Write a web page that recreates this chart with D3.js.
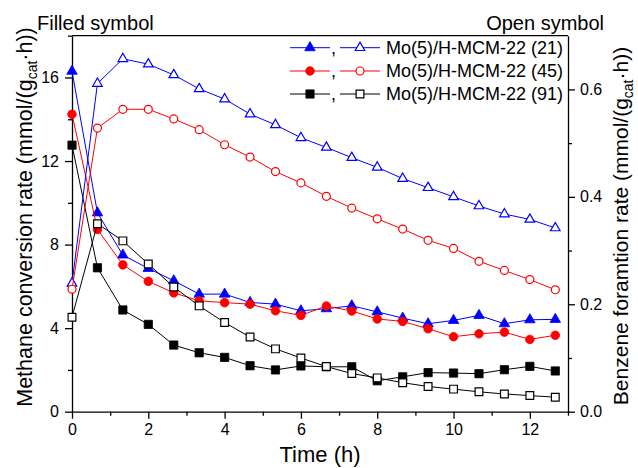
<!DOCTYPE html>
<html><head><meta charset="utf-8">
<script src="https://cdn.jsdelivr.net/npm/d3@7"></script>
<style>body{margin:0;background:#fff}svg{display:block}text{font-family:"Liberation Sans",Arial,sans-serif}</style>
</head><body><div id="c"></div>
<script>
const time = [0,0.667,1.333,2,2.667,3.333,4,4.667,5.333,6,6.667,7.333,8,8.667,9.333,10,10.667,11.333,12,12.667];
// Methane conversion rate (filled symbols, left axis)
const ch4_21 = [16.3,9.52,7.5,6.86,6.27,5.63,5.63,5.23,5.15,4.83,4.93,5.07,4.78,4.48,4.21,4.37,4.61,4.21,4.40,4.42];
const ch4_45 = [14.24,8.73,7.03,6.24,5.69,5.31,5.22,5.15,4.83,4.61,5.06,4.82,4.44,4.32,3.97,3.59,3.73,3.81,3.46,3.66];
const ch4_91 = [12.76,6.89,4.87,4.18,3.19,2.82,2.60,2.20,2.00,2.19,2.15,2.15,1.48,1.67,1.87,1.85,1.82,2.01,2.17,1.95];
// Benzene formation rate (open symbols, right axis)
const bz_21 = [0.239,0.611,0.657,0.647,0.627,0.601,0.582,0.554,0.534,0.510,0.492,0.473,0.455,0.434,0.417,0.400,0.383,0.368,0.358,0.342];
const bz_45 = [0.228,0.528,0.563,0.563,0.545,0.525,0.497,0.474,0.447,0.426,0.401,0.379,0.359,0.340,0.319,0.304,0.280,0.263,0.246,0.227];
const bz_91 = [0.176,0.350,0.318,0.275,0.232,0.197,0.166,0.139,0.117,0.100,0.084,0.071,0.063,0.054,0.047,0.042,0.037,0.033,0.030,0.027];
const labels = ["Mo(5)/H-MCM-22 (21)","Mo(5)/H-MCM-22 (45)","Mo(5)/H-MCM-22 (91)"];
const colors = ["#0000ff","#ff0000","#000000"];
const xTicks = [0,2,4,6,8,10,12];
const yLTicks = [0,4,8,12,16];
const yRTicks = [0,0.2,0.4,0.6];

const W=638,H=468;
const m={l:72,r:70,t:35.7,b:56.3};
const svg=d3.select("#c").append("svg").attr("width",W).attr("height",H);
const x=d3.scaleLinear().domain([0,13]).range([m.l,W-m.r]);
const yL=d3.scaleLinear().domain([0,18]).range([H-m.b,m.t]);
const yR=d3.scaleLinear().domain([0,0.7]).range([H-m.b,m.t]);
const fs="16px";

function styleAxis(g){g.select(".domain").attr("stroke","#000").attr("stroke-width",1.3);g.selectAll("line").attr("stroke","#000").attr("stroke-width",1.3);g.selectAll("text").attr("font-size",fs).attr("fill","#000");}
function minor(g){g.select(".domain").remove();g.selectAll("line").attr("stroke","#000").attr("stroke-width",1.3);}
const gx=svg.append("g").attr("transform",`translate(0,${H-m.b})`)
 .call(d3.axisBottom(x).tickValues(xTicks).tickSize(7).tickSizeOuter(0).tickPadding(4).tickFormat(d3.format("d")));
styleAxis(gx);
gx.selectAll("text").attr("dy","0.78em");
svg.append("g").attr("transform",`translate(0,${H-m.b})`)
 .call(d3.axisBottom(x).tickValues([1,3,5,7,9,11,13]).tickSize(4).tickSizeOuter(0).tickFormat("")).call(minor);
const gl=svg.append("g").attr("transform",`translate(${m.l},0)`)
 .call(d3.axisLeft(yL).tickValues(yLTicks).tickSize(7).tickSizeOuter(0).tickPadding(6).tickFormat(d3.format("d")));
styleAxis(gl);
svg.append("g").attr("transform",`translate(${m.l},0)`)
 .call(d3.axisLeft(yL).tickValues([2,6,10,14,18]).tickSize(4).tickSizeOuter(0).tickFormat("")).call(minor);
const gr=svg.append("g").attr("transform",`translate(${W-m.r},0)`)
 .call(d3.axisRight(yR).tickValues(yRTicks).tickSize(7).tickSizeOuter(0).tickPadding(5).tickFormat(d3.format(".1f")));
styleAxis(gr);
svg.append("g").attr("transform",`translate(${W-m.r},0)`)
 .call(d3.axisRight(yR).tickValues([0.1,0.3,0.5]).tickSize(4).tickSizeOuter(0).tickFormat("")).call(minor);
svg.append("line").attr("x1",m.l).attr("x2",W-m.r).attr("y1",m.t).attr("y2",m.t).attr("stroke","#000").attr("stroke-width",1.3);

const symTypes=[d3.symbolTriangle,d3.symbolCircle,d3.symbolSquare];
const symSize=[40,50,60];
const filled=[ch4_21,ch4_45,ch4_91];
const open=[bz_21,bz_45,bz_91];
const plot=svg.append("g");
function drawSeries(vals,ys,i,isOpen){
  const pts=vals.map((v,k)=>[time[k],v]);
  plot.append("path").datum(pts).attr("fill","none").attr("stroke",colors[i]).attr("stroke-width",1)
   .attr("d",d3.line().x(d=>x(d[0])).y(d=>ys(d[1])));
  plot.append("g").selectAll("path").data(pts).join("path")
   .attr("transform",d=>`translate(${x(d[0])},${ys(d[1])})`)
   .attr("d",d3.symbol().type(symTypes[i]).size(isOpen?symSize[i]:symSize[i]+8))
   .attr("fill",isOpen?"#fff":colors[i]).attr("stroke",colors[i]).attr("stroke-width",isOpen?1.2:0.8);
}
for(let i=0;i<3;i++) drawSeries(filled[i],yL,i,false);
for(let i=0;i<3;i++) drawSeries(open[i],yR,i,true);

const legY=[47.7,71,94];
const leg=svg.append("g");
labels.forEach((lab,i)=>{
  const y=legY[i];
  leg.append("line").attr("x1",290).attr("x2",330).attr("y1",y).attr("y2",y).attr("stroke",colors[i]).attr("stroke-width",1);
  leg.append("path").attr("transform",`translate(310,${y})`).attr("d",d3.symbol().type(symTypes[i]).size(symSize[i]+8)).attr("fill",colors[i]).attr("stroke",colors[i]).attr("stroke-width",0.8);
  leg.append("text").attr("x",331).attr("y",y+6).attr("font-size","18px").text(",");
  leg.append("line").attr("x1",340).attr("x2",380).attr("y1",y).attr("y2",y).attr("stroke",colors[i]).attr("stroke-width",1);
  leg.append("path").attr("transform",`translate(360,${y})`).attr("d",d3.symbol().type(symTypes[i]).size(symSize[i])).attr("fill","#fff").attr("stroke",colors[i]).attr("stroke-width",1.2);
  leg.append("text").attr("x",386).attr("y",y+6.3).attr("font-size","18px").text(lab);
});

svg.append("text").attr("x",37).attr("y",30).attr("font-size","20px").text("Filled symbol");
svg.append("text").attr("x",604).attr("y",30).attr("font-size","20px").attr("text-anchor","end").text("Open symbol");

svg.append("text").attr("x",(m.l+W-m.r)/2).attr("y",462).attr("font-size","22px").attr("text-anchor","middle").text("Time (h)");

function yTitle(tx,ty,main,size){
  const t=svg.append("text").attr("transform",`translate(${tx},${ty}) rotate(-90)`).attr("text-anchor","middle").attr("font-size",size+"px");
  t.append("tspan").text(main+" (mmol/(g");
  t.append("tspan").attr("font-size","14px").attr("dy","5").text("cat");
  t.append("tspan").attr("dy","-5").text("\u00b7h))");
}
yTitle(32,217,"Methane conversion rate",21.5);
yTitle(628,226,"Benzene foramtion rate",21);
</script></body></html>
